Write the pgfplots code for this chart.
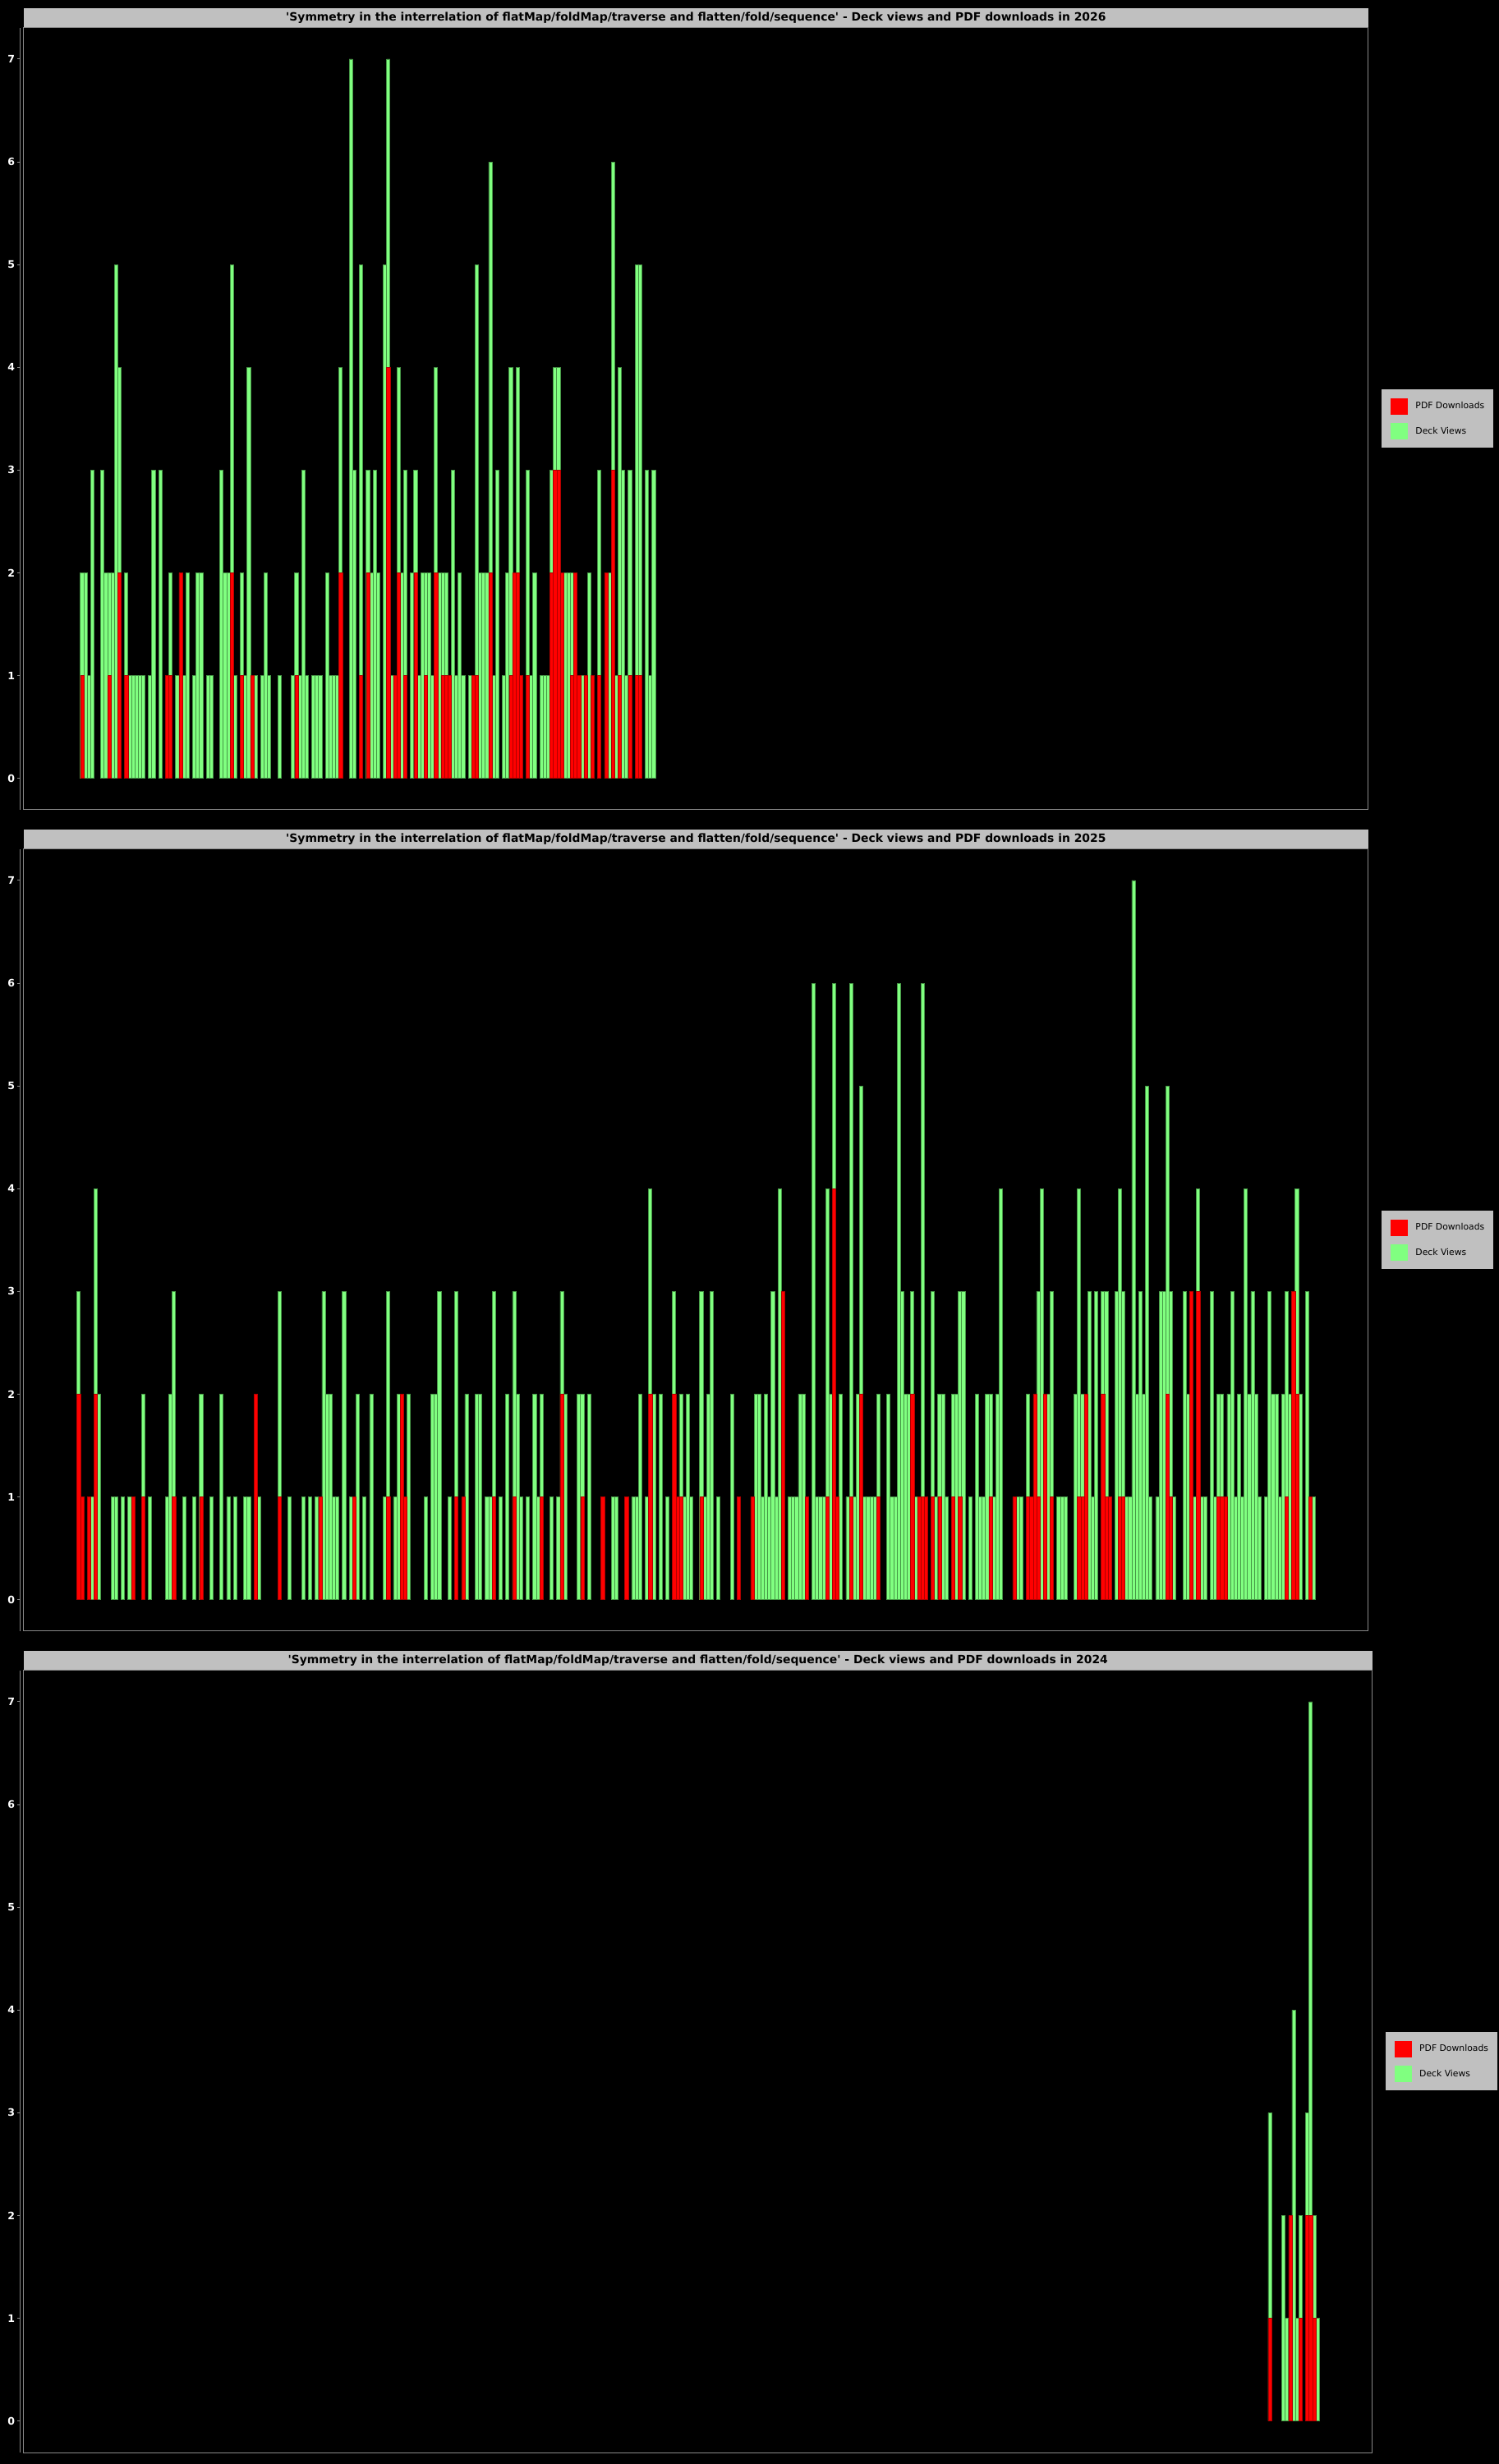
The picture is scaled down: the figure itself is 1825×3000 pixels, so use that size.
\documentclass[border=0pt]{standalone}
\usepackage{fontspec}
\setmainfont{DejaVu Sans}
\usepackage{pgfplots}
\pgfplotsset{compat=1.18}
\definecolor{gbar}{RGB}{128,255,128}
\definecolor{gedge}{RGB}{70,150,70}
\definecolor{rbar}{RGB}{255,0,0}
\definecolor{redge}{RGB}{175,0,0}
\definecolor{band}{RGB}{192,192,192}
\definecolor{framegray}{RGB}{136,136,136}
\pgfplotsset{
  panel/.style={
    scale only axis, width=1637.3bp, height=952.3bp,
    xmin=-16.19, xmax=379.02, ymin=-0.306, ymax=7.306,
    axis background/.style={fill=black},
    axis line style={framegray, line width=1bp},
    xtick=\empty, ytick={0,1,2,3,4,5,6,7},
    tick align=outside, major tick length=3bp,
    ytick style={framegray, line width=1bp, xshift=-4.4bp},
    ytick pos=left,
    /pgf/number format/assume math mode=true,
    yticklabel style={font=\bfseries\fontsize{12.5bp}{14bp}\selectfont, text=white, xshift=-4bp},
    every axis title/.style={at={(0.5,1)}, anchor=south, fill=band, text=black,
      minimum width=#1, minimum height=23.7bp, inner sep=0pt,
      font=\bfseries\fontsize{13.9bp}{15bp}\selectfont},
    legend style={at={(1,0.5)}, anchor=west, xshift=15.6bp, fill=band, draw=none,
      font=\fontsize{10.8bp}{13bp}\selectfont, inner xsep=11bp, inner ysep=10.5bp,
      row sep=11bp, column sep=10bp, nodes={inner sep=0pt, text=black}},
    legend cell align=left,
    reverse legend,
    after end axis/.code={\draw[framegray, line width=1bp] ([xshift=-4.4bp]rel axis cs:0,0) -- ([xshift=-4.4bp]rel axis cs:0,1);},
  },
  gbars/.style={ybar, bar width=1, bar shift=0pt, fill=gbar, draw=gedge, line width=0.7bp,
    legend image code/.code={\fill[gbar] (0bp,-9.5bp) rectangle (20bp,9.5bp);}},
  rbars/.style={ybar, bar width=1, bar shift=0pt, fill=rbar, draw=redge, line width=0.5bp,
    legend image code/.code={\fill[rbar] (0bp,-9.5bp) rectangle (20bp,9.5bp);}},
}
\begin{document}
\begin{tikzpicture}
\fill[black] (0,0) rectangle (1825bp,3000bp);
% ---------------- 2026 ----------------
\begin{axis}[panel={1637.3bp}, at={(28.7bp,2014bp)},
  title={\textquotesingle Symmetry in the interrelation of flatMap/foldMap/traverse and flatten/fold/sequence\textquotesingle\ - Deck views and PDF downloads in 2026}]
\addplot[gbars] coordinates {
(1,2)(2,2)(3,1)(4,3)(7,3)(8,2)(9,2)(10,2)(11,5)(12,4)(14,2)(15,1)(16,1)(17,1)(18,1)(19,1)
(21,1)(22,3)(24,3)(27,2)(29,1)(31,1)(32,2)(34,1)(35,2)(36,2)(38,1)(39,1)(42,3)(43,2)(44,2)
(45,5)(46,1)(48,2)(49,1)(50,4)(52,1)(54,1)(55,2)(56,1)(59,1)(63,1)(64,2)(65,1)(66,3)(67,1)
(69,1)(70,1)(71,1)(73,2)(74,1)(75,1)(76,1)(77,4)(80,7)(81,3)(83,5)(85,3)(86,2)(87,3)(88,2)
(90,5)(91,7)(92,1)(94,4)(95,2)(96,3)(98,2)(99,3)(100,1)(101,2)(102,2)(103,2)(104,1)(105,4)
(106,2)(107,2)(108,2)(110,3)(111,1)(112,2)(113,1)(115,1)(117,5)(118,2)(119,2)(120,2)(121,6)
(122,1)(123,3)(125,1)(126,2)(127,4)(129,4)(132,3)(133,1)(134,2)(136,1)(137,1)(138,1)(139,3)
(140,4)(141,4)(143,2)(144,2)(145,2)(148,1)(150,2)(153,3)(156,2)(157,6)(158,1)(159,4)(160,3)
(161,1)(162,3)(164,5)(165,5)(167,3)(168,1)(169,3)
};
\addplot[rbars] coordinates {
(1,1)(9,1)(12,2)(14,1)(26,1)(27,1)(30,2)(45,2)(48,1)(51,1)(64,1)(77,2)(83,1)(85,2)(91,4)
(93,1)(94,2)(96,1)(99,2)(102,1)(105,2)(107,1)(108,1)(109,1)(116,1)(117,1)(121,2)(127,1)
(128,2)(129,2)(130,1)(132,1)(139,2)(140,3)(141,3)(142,2)(145,1)(146,2)(147,1)(149,1)(151,1)
(153,1)(155,2)(157,3)(159,1)(162,1)(164,1)(165,1)
};
\legend{Deck Views, PDF Downloads}
\end{axis}
% ---------------- 2025 ----------------
\begin{axis}[panel={1637.3bp}, at={(28.7bp,1014bp)},
  title={\textquotesingle Symmetry in the interrelation of flatMap/foldMap/traverse and flatten/fold/sequence\textquotesingle\ - Deck views and PDF downloads in 2025}]
\addplot[gbars] coordinates {
(0,3)(4,1)(5,4)(6,2)(10,1)(11,1)(13,1)(15,1)(19,2)(21,1)(26,1)(27,2)(28,3)(31,1)(34,1)(36,2)
(39,1)(42,2)(44,1)(46,1)(49,1)(50,1)(53,1)(59,3)(62,1)(66,1)(68,1)(70,1)(72,3)(73,2)(74,2)
(75,1)(76,1)(78,3)(80,1)(82,2)(84,1)(86,2)(90,1)(91,3)(93,1)(94,2)(97,2)(102,1)(104,2)(105,2)
(106,3)(109,1)(111,3)(114,2)(117,2)(118,2)(120,1)(121,1)(122,3)(124,1)(126,2)(128,3)(129,2)
(130,1)(132,1)(134,2)(135,1)(136,2)(139,1)(141,1)(142,3)(143,2)(147,2)(148,2)(150,2)(157,1)
(158,1)(163,1)(164,1)(165,2)(167,1)(168,4)(169,2)(171,2)(173,1)(175,3)(177,2)(178,1)(179,2)
(180,1)(183,3)(184,1)(185,2)(186,3)(188,1)(192,2)(199,2)(200,2)(201,1)(202,2)(203,1)(204,3)
(205,1)(206,4)(209,1)(210,1)(211,1)(212,2)(213,2)(216,6)(217,1)(218,1)(219,1)(220,4)(221,2)
(222,6)(224,2)(226,1)(227,6)(228,1)(229,2)(230,5)(231,1)(232,1)(233,1)(234,1)(235,2)(238,2)
(239,1)(240,1)(241,6)(242,3)(243,2)(244,2)(245,3)(246,1)(248,6)(251,3)(252,1)(253,2)(254,2)
(255,1)(257,2)(258,2)(259,3)(260,3)(262,1)(264,2)(265,1)(266,1)(267,2)(268,2)(269,1)(270,2)
(271,4)(276,1)(277,1)(279,2)(282,3)(283,4)(285,2)(286,3)(288,1)(289,1)(290,1)(293,2)(294,4)
(295,2)(297,3)(298,1)(299,3)(301,3)(302,3)(305,3)(306,4)(307,3)(308,1)(309,1)(310,7)(311,2)
(312,3)(313,2)(314,5)(315,1)(317,1)(318,3)(319,3)(320,5)(321,3)(322,1)(325,3)(326,2)(328,1)
(329,4)(330,1)(331,1)(333,3)(334,1)(335,2)(336,2)(338,2)(339,3)(340,1)(341,2)(342,1)(343,4)
(344,2)(345,3)(346,2)(347,1)(349,1)(350,3)(351,2)(352,2)(353,1)(354,2)(355,3)(356,2)(358,4)
(359,2)(361,3)(363,1)
};
\addplot[rbars] coordinates {
(0,2)(1,1)(3,1)(5,2)(16,1)(19,1)(28,1)(36,1)(52,2)(59,1)(71,1)(81,1)(91,1)(95,2)(96,1)(111,1)
(113,1)(122,1)(128,1)(136,1)(142,2)(148,1)(154,1)(161,1)(168,2)(175,2)(176,1)(177,1)(183,1)
(194,1)(198,1)(207,3)(214,1)(220,1)(222,4)(223,1)(227,1)(230,2)(235,1)(245,2)(247,1)(248,1)
(249,1)(251,1)(253,1)(257,1)(259,1)(268,1)(275,1)(279,1)(280,1)(281,2)(282,1)(284,2)(286,1)
(294,1)(295,1)(296,2)(301,2)(302,1)(303,1)(306,1)(307,1)(320,2)(321,1)(327,3)(329,3)(335,1)
(336,1)(337,1)(355,1)(357,3)(358,2)(362,1)
};
\legend{Deck Views, PDF Downloads}
\end{axis}
% ---------------- 2024 ----------------
\begin{axis}[panel={1642bp}, width=1642bp, xmax=380.1, at={(28.7bp,14bp)},
  title={\textquotesingle Symmetry in the interrelation of flatMap/foldMap/traverse and flatten/fold/sequence\textquotesingle\ - Deck views and PDF downloads in 2024}]
\addplot[gbars] coordinates {
(350,3)(354,2)(355,1)(357,4)(358,1)(359,2)(361,3)(362,7)(363,2)(364,1)
};
\addplot[rbars] coordinates {
(350,1)(356,2)(359,1)(361,2)(362,2)(363,1)
};
\legend{Deck Views, PDF Downloads}
\end{axis}
\pgfresetboundingbox
\useasboundingbox (0,0) rectangle (1825bp,3000bp);
\end{tikzpicture}
\end{document}
